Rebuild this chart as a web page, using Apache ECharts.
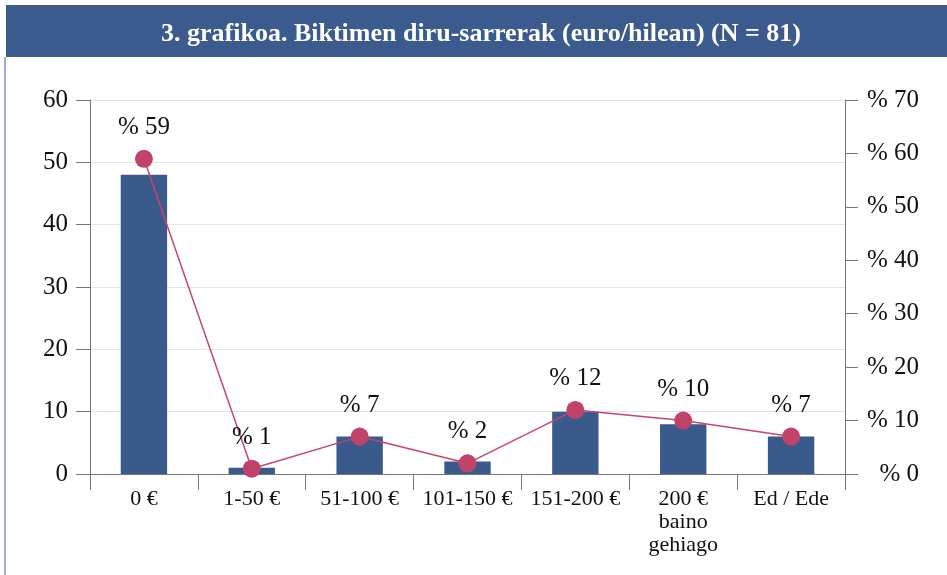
<!DOCTYPE html>
<html>
<head>
<meta charset="utf-8">
<script src="https://cdn.jsdelivr.net/npm/echarts@6/dist/echarts.min.js"></script>
<style>
  html, body { margin: 0; padding: 0; background: #fff; }
  #chart { width: 947px; height: 575px; }
</style>
</head>
<body>
<div id="chart"></div>
<script>
// datuak
var categories = ["0 €", "1-50 €", "51-100 €", "101-150 €", "151-200 €", "200 €\nbaino\ngehiago", "Ed / Ede"];
var counts = [48, 1, 6, 2, 10, 8, 6];
var percents = [59, 1, 7, 2, 12, 10, 7];
var leftTicks = { min: 0, max: 60, step: 10 };
var rightTicks = { min: 0, max: 70, step: 10 };

var FONT = "Liberation Serif";
var chart = echarts.init(document.getElementById("chart"));

var option = {
  animation: false,
  backgroundColor: "#fff",
  textStyle: { fontFamily: FONT },
  graphic: [
    // goiburuko banda
    { type: "rect", left: 6, top: 5, shape: { width: 941, height: 52 }, style: { fill: "#3b5a8d" }, z: 0 },
    // ezkerreko marra
    { type: "rect", left: 4, top: 57, shape: { width: 2, height: 518 }, style: { fill: "#a3abd8" }, z: 0 }
  ],
  title: {
    text: "3. grafikoa. Biktimen diru-sarrerak (euro/hilean) (N = 81)",
    left: 476,
    textAlign: "center",
    top: 16,
    textStyle: { color: "#fff", fontFamily: FONT, fontSize: 26, fontWeight: "bold" },
    z: 10
  },
  grid: { left: 90, right: 102, top: 100, bottom: 101 },
  xAxis: {
    type: "category",
    data: categories,
    axisLine: { lineStyle: { color: "#777", width: 1 } },
    axisTick: { show: true, alignWithLabel: false, length: 16, lineStyle: { color: "#777" } },
    axisLabel: { color: "#111", fontFamily: FONT, fontSize: 22, margin: 14, lineHeight: 23, interval: 0 }
  },
  yAxis: [
    {
      type: "value",
      min: leftTicks.min,
      max: leftTicks.max,
      interval: leftTicks.step,
      axisLine: { show: true, lineStyle: { color: "#777" } },
      axisTick: { show: true, inside: false, length: 14, lineStyle: { color: "#777" } },
      axisLabel: { color: "#111", fontFamily: FONT, fontSize: 25, margin: 22 },
      splitLine: { show: true, lineStyle: { color: "#e4e4e4" } }
    },
    {
      type: "value",
      position: "right",
      min: rightTicks.min,
      max: rightTicks.max,
      interval: rightTicks.step,
      axisLine: { show: true, lineStyle: { color: "#777" } },
      axisTick: { show: true, inside: false, length: 13, lineStyle: { color: "#777" } },
      axisLabel: { color: "#111", fontFamily: FONT, fontSize: 25, margin: 74, align: "right", formatter: "% {value}" },
      splitLine: { show: false }
    }
  ],
  series: [
    {
      type: "bar",
      data: counts,
      yAxisIndex: 0,
      barWidth: "43%",
      itemStyle: { color: "#3a5a8c" },
      z: 2
    },
    {
      type: "line",
      data: percents,
      yAxisIndex: 1,
      symbol: "circle",
      symbolSize: 18,
      lineStyle: { color: "#c8456e", width: 1.5 },
      itemStyle: { color: "#c2436a" },
      label: {
        show: true,
        position: "top",
        distance: 10,
        formatter: "% {c}",
        color: "#111",
        fontFamily: FONT,
        fontSize: 25
      },
      z: 3
    }
  ]
};

chart.setOption(option);
</script>
</body>
</html>
